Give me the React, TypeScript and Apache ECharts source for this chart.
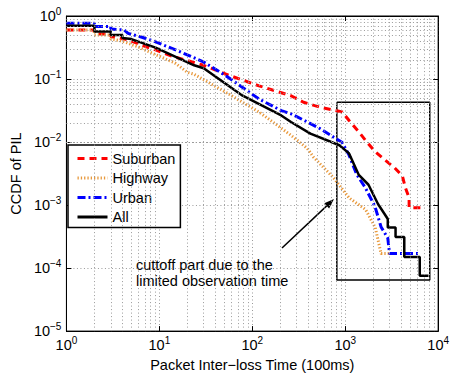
import React, { useEffect, useRef } from "react";
import * as echarts from "echarts";

const FONT = "'Liberation Sans', Arial, Helvetica, sans-serif";

// Series values [x (100ms), CCDF]
const suburban: [number, number][] = [
  [1, 0.6], [2, 0.6], [2, 0.52], [3, 0.52], [3, 0.474], [4.6, 0.42], [7, 0.33], [9.1, 0.29],
  [13.7, 0.23], [30, 0.165], [52.3, 0.119], [118, 0.078], [261, 0.0543], [356, 0.0428],
  [536, 0.0357], [930, 0.03], [1100, 0.022], [1400, 0.0145], [1700, 0.0101], [2100, 0.007],
  [2670, 0.0052], [3400, 0.0039], [4120, 0.0029], [4430, 0.0019], [4870, 0.0013],
  [4870, 0.00091], [6980, 0.00091],
];

const highway: [number, number][] = [
  [1, 0.6], [2, 0.6], [2, 0.5], [3, 0.5], [3, 0.43], [4, 0.4], [6, 0.32], [9, 0.245],
  [14.7, 0.18], [20, 0.128], [23.7, 0.119], [52, 0.0614], [118, 0.03], [261, 0.0128],
  [392, 0.0079], [454, 0.0058], [750, 0.0027], [1100, 0.0013], [1655, 0.00085],
  [2104, 0.00044], [2430, 0.00017], [3300, 0.00017],
];

const urban: [number, number][] = [
  [1, 0.77], [2, 0.77], [2, 0.68], [3, 0.68], [3, 0.62], [4.2, 0.6], [4.6, 0.53], [6.5, 0.46],
  [9.1, 0.39], [16.6, 0.272], [30.2, 0.185], [52.3, 0.112], [118, 0.0482], [205, 0.0316],
  [261, 0.0281], [392, 0.0208], [536, 0.0163], [930, 0.0098], [1100, 0.0062], [1290, 0.0034],
  [1400, 0.0027], [1640, 0.0019], [2090, 0.00095], [2430, 0.00045], [2870, 0.0003],
  [3000, 0.00017], [6340, 0.00017],
];

const allData: [number, number][] = [
  [1, 0.7], [2, 0.7], [2, 0.57], [3, 0.57], [3, 0.5], [4, 0.5], [4, 0.447], [5, 0.43],
  [9.1, 0.315], [23.7, 0.165], [30, 0.148], [78.7, 0.0543], [205, 0.0264], [261, 0.0208],
  [422, 0.0136], [866, 0.0089], [1100, 0.0066], [1400, 0.003], [1780, 0.0021], [2260, 0.00103],
  [2650, 0.00072], [2870, 0.0006], [2870, 0.00044], [3480, 0.00044], [3480, 0.00031],
  [4320, 0.00031], [4320, 0.00015], [6340, 0.00015], [6340, 0.0000755], [7870, 0.0000755],
];

// Cut-off annotation box corners (data coords)
const cutoffBox: [number, number][] = [
  [812, 0.0428], [8118, 0.0428], [8118, 0.0000646], [812, 0.0000646], [812, 0.0428],
];

const minorMultipliers = [2, 3, 4, 5, 6, 7, 8, 9];
const xDecades = [1, 10, 100, 1000];
const yDecades = [0.00001, 0.0001, 0.001, 0.01, 0.1];

const legendNames = ["Suburban", "Highway", "Urban", "All"];
const xAxisName = "Packet Inter\u2212loss Time (100ms)";
const yAxisName = "CCDF of PIL";
const noteText = "cuttoff part due to the\nlimited observation time";

const gridStyle = { color: "#9a9a9a", type: [1, 2.5] as number[], width: 1 };

function logLabel(v: number) {
  const e = Math.round(Math.log10(v));
  const s = e < 0 ? "\u2212" + -e : String(e);
  return `{b|10}{e|${s}}`;
}

const labelRich = {
  b: { fontSize: 14.5, fontFamily: FONT, color: "#000" },
  e: { fontSize: 10, fontFamily: FONT, color: "#000", padding: [0, 0, 9, 0] },
};

export default function App() {
  const ref = useRef<HTMLDivElement>(null);
  useEffect(() => {
    document.body.style.margin = "0";
    if (!ref.current) return;
    const chart = echarts.init(ref.current, undefined, { renderer: "svg" });

    const minorX: any[] = [];
    xDecades.forEach((d) => minorMultipliers.forEach((m) => minorX.push({ xAxis: m * d })));
    const minorY: any[] = [];
    yDecades.forEach((d) => minorMultipliers.forEach((m) => minorY.push({ yAxis: m * d })));

    const axisCommon = {
      type: "log" as const,
      logBase: 10,
      axisLine: { show: true, onZero: false, lineStyle: { color: "#000", width: 1 } },
      axisTick: { show: true, inside: true, length: 5, lineStyle: { color: "#000", width: 1 } },
    };

    chart.setOption({
      animation: false,
      grid: { left: 58, top: 16, width: 384, height: 319, show: true, borderColor: "#000", borderWidth: 1 },
      xAxis: [
        {
          ...axisCommon,
          min: 1,
          max: 10000,
          position: "bottom",
          name: xAxisName,
          nameLocation: "middle",
          nameGap: 24,
          nameTextStyle: { fontFamily: FONT, fontSize: 14.5, color: "#000" },
          axisLabel: { formatter: logLabel, rich: labelRich, margin: 4 },
          splitLine: { show: true, lineStyle: gridStyle },
        },
        {
          ...axisCommon,
          min: 1,
          max: 10000,
          position: "top",
          axisLabel: { show: false },
          splitLine: { show: false },
        },
      ],
      yAxis: [
        {
          ...axisCommon,
          min: 0.00001,
          max: 1,
          position: "left",
          name: yAxisName,
          nameLocation: "middle",
          nameGap: 35,
          nameTextStyle: { fontFamily: FONT, fontSize: 14.5, color: "#000" },
          axisLabel: { formatter: logLabel, rich: labelRich, margin: 5 },
          splitLine: { show: true, lineStyle: gridStyle },
        },
        {
          ...axisCommon,
          min: 0.00001,
          max: 1,
          position: "right",
          axisLabel: { show: false },
          splitLine: { show: false },
        },
      ],
      legend: {
        data: legendNames,
        orient: "vertical",
        left: 68,
        top: 145,
        padding: [6, 5, 3, 8],
        itemWidth: 30,
        itemHeight: 15,
        itemGap: 4.5,
        backgroundColor: "#fff",
        borderColor: "#000",
        borderWidth: 1.5,
        borderRadius: 0,
        itemStyle: { opacity: 0 },
        lineStyle: { width: 3 },
        textStyle: { fontFamily: FONT, fontSize: 14.5, color: "#000" },
      },
      series: [
        {
          name: "cutoff",
          type: "line",
          data: cutoffBox,
          symbol: "none",
          silent: true,
          lineStyle: { color: "#000", width: 1.5 },
          markLine: {
            silent: true,
            symbol: ["none", "none"],
            label: { show: false },
            lineStyle: gridStyle,
            emphasis: { disabled: true },
            data: [...minorX, ...minorY],
          },
        },
        {
          name: "Suburban",
          type: "line",
          data: suburban,
          symbol: "none",
          itemStyle: { color: "#ff0000" },
          lineStyle: { color: "#ff0000", width: 3, type: [7, 5] },
        },
        {
          name: "Highway",
          type: "line",
          data: highway,
          symbol: "none",
          itemStyle: { color: "#e8993c" },
          lineStyle: { color: "#e8993c", width: 3, type: [1.3, 2] },
        },
        {
          name: "Urban",
          type: "line",
          data: urban,
          symbol: "none",
          itemStyle: { color: "#0000ff" },
          lineStyle: { color: "#0000ff", width: 3, type: [8, 3, 2, 3] },
        },
        {
          name: "All",
          type: "line",
          data: allData,
          symbol: "none",
          itemStyle: { color: "#000" },
          lineStyle: { color: "#000", width: 2.5 },
        },
      ],
      graphic: [
        {
          type: "line",
          silent: true,
          shape: { x1: 282, y1: 248, x2: 327, y2: 205.6 },
          style: { stroke: "#000", lineWidth: 1.5 },
        },
        {
          type: "polygon",
          silent: true,
          shape: { points: [[334, 199], [329.1, 208.4], [324.3, 203.3]] },
          style: { fill: "#000" },
        },
        {
          type: "text",
          silent: true,
          x: 136,
          y: 257,
          style: { text: noteText, fontFamily: FONT, fontSize: 14.5, lineHeight: 16, fill: "#000" },
        },
      ],
    });
    return () => chart.dispose();
  }, []);
  return <div ref={ref} style={{ width: 452, height: 377 }} />;
}
